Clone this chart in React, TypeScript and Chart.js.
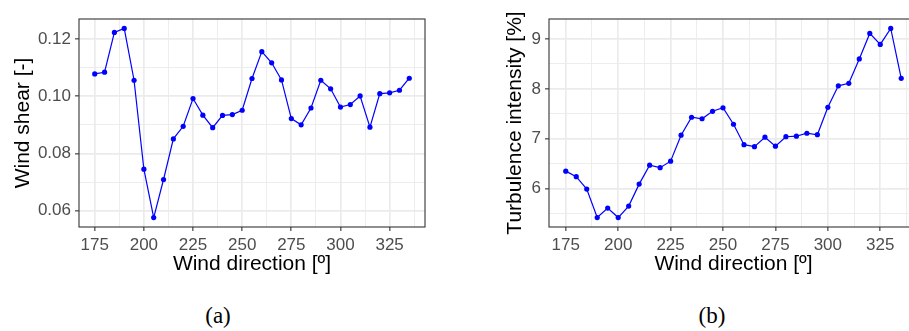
import React, { useEffect, useRef } from "react";
import { Chart, registerables } from "chart.js";

Chart.register(...registerables);

// ---------- data ----------
const directions = [175, 180, 185, 190, 195, 200, 205, 210, 215, 220, 225, 230, 235, 240, 245, 250, 255, 260, 265, 270, 275, 280, 285, 290, 295, 300, 305, 310, 315, 320, 325, 330, 335];
const windShear = [0.1078, 0.1084, 0.1223, 0.1237, 0.1056, 0.0745, 0.0576, 0.0709, 0.0851, 0.0895, 0.0992, 0.0934, 0.089, 0.0933, 0.0936, 0.0951, 0.1062, 0.1156, 0.1117, 0.1057, 0.0922, 0.09, 0.0959, 0.1056, 0.1026, 0.0962, 0.0971, 0.1001, 0.0892, 0.1009, 0.1012, 0.1021, 0.1063];
const turbulence = [6.35, 6.24, 5.99, 5.42, 5.61, 5.42, 5.65, 6.09, 6.47, 6.42, 6.55, 7.07, 7.43, 7.4, 7.55, 7.62, 7.29, 6.88, 6.84, 7.03, 6.85, 7.04, 7.05, 7.11, 7.08, 7.63, 8.06, 8.11, 8.6, 9.11, 8.89, 9.21, 8.21];

const xMajorTicks = [175, 200, 225, 250, 275, 300, 325];
const xMinorTicks = [187.5, 212.5, 237.5, 262.5, 287.5, 312.5, 337.5];
const shearMajorTicks = [0.06, 0.08, 0.1, 0.12];
const shearMinorTicks = [0.07, 0.09, 0.11];
const tiMajorTicks = [6, 7, 8, 9];
const tiMinorTicks = [5.5, 6.5, 7.5, 8.5];

const xTitle = "Wind direction [º]";
const shearTitle = "Wind shear [-]";
const tiTitle = "Turbulence intensity [%]";
const captions = ["(a)", "(b)"];

// ---------- helpers ----------
const expand = (vals: number[]) => {
  const lo = Math.min(...vals);
  const hi = Math.max(...vals);
  const pad = (hi - lo) * 0.05;
  return [lo - pad, hi + pad];
};

const SANS = "'Liberation Sans', Arial, sans-serif";
const GRID = "#ebebeb";
const BORDER = "#333333";

const boxPlugin = {
  id: "panelBox",
  afterDatasetsDraw(chart: any) {
    const { ctx, chartArea: a } = chart;
    ctx.save();
    ctx.strokeStyle = BORDER;
    ctx.lineWidth = 1.1;
    ctx.strokeRect(a.left, a.top, a.right - a.left, a.bottom - a.top);
    ctx.restore();
  },
};

function makeAxis(
  range: number[],
  majors: number[],
  minors: number[],
  title: string,
  fmt: (v: number) => string,
  fit: (s: any) => void,
  titlePad: any
) {
  const isMajor = (v: number) => majors.some((m) => Math.abs(m - v) < 1e-9);
  return {
    type: "linear",
    min: range[0],
    max: range[1],
    afterBuildTicks: (s: any) => {
      s.ticks = [...majors, ...minors]
        .filter((v) => v >= range[0] && v <= range[1])
        .sort((a, b) => a - b)
        .map((v) => ({ value: v }));
    },
    afterFit: fit,
    border: { display: false },
    grid: {
      color: GRID,
      lineWidth: (c: any) => (c.tick && isMajor(c.tick.value) ? 1.7 : 0.9),
      tickColor: (c: any) => (c.tick && isMajor(c.tick.value) ? BORDER : "rgba(0,0,0,0)"),
      tickLength: 4,
      tickWidth: 1.1,
      drawTicks: true,
    },
    ticks: {
      autoSkip: false,
      maxRotation: 0,
      padding: 4,
      color: "#4d4d4d",
      font: { family: SANS, size: 17 },
      callback: (v: any) => (isMajor(Number(v)) ? fmt(Number(v)) : ""),
    },
    title: {
      display: true,
      text: title,
      color: "#000000",
      font: { family: SANS, size: 21 },
      padding: titlePad,
    },
  };
}

function ChartPanel(props: {
  values: number[];
  yMajors: number[];
  yMinors: number[];
  yTitle: string;
  yFmt: (v: number) => string;
  left: number;
  width: number;
  yAxisWidth: number;
  padRight: number;
}) {
  const ref = useRef<HTMLCanvasElement | null>(null);
  useEffect(() => {
    if (!ref.current) return;
    const xr = expand(directions);
    const yr = expand(props.values);
    const chart = new Chart(ref.current, {
      type: "line",
      data: {
        datasets: [
          {
            data: directions.map((d, i) => ({ x: d, y: props.values[i] })),
            borderColor: "#0000ff",
            backgroundColor: "#0000ff",
            borderWidth: 1.2,
            pointRadius: 2.6,
            pointBorderWidth: 0,
            pointBackgroundColor: "#0000ff",
            tension: 0,
          },
        ],
      },
      options: {
        animation: false,
        responsive: false,
        devicePixelRatio: 1,
        layout: { padding: { top: 19, right: props.padRight, left: 0, bottom: 0 } },
        plugins: { legend: { display: false }, tooltip: { enabled: false } },
        scales: {
          x: makeAxis(xr, xMajorTicks, xMinorTicks, xTitle, (v) => String(v), (s: any) => {
            s.height = 63;
          }, { top: 0, bottom: 13 }) as any,
          y: makeAxis(yr, props.yMajors, props.yMinors, props.yTitle, props.yFmt, (s: any) => {
            s.width = props.yAxisWidth;
          }, { top: 11, bottom: 0 }) as any,
        },
      },
      plugins: [boxPlugin],
    } as any);
    return () => chart.destroy();
  }, []);
  return (
    <canvas
      ref={ref}
      width={props.width}
      height={290}
      style={{ position: "absolute", left: props.left, top: 0, width: props.width, height: 290 }}
    />
  );
}

export default function App() {
  const capStyle = (cx: number): React.CSSProperties => ({
    position: "absolute",
    left: cx - 40,
    width: 80,
    top: 304,
    textAlign: "center",
    fontFamily: "'Liberation Serif', 'Times New Roman', serif",
    fontSize: 23,
    lineHeight: "23px",
    color: "#000",
  });
  return (
    <div
      style={{
        position: "fixed",
        left: 0,
        top: 0,
        width: 909,
        height: 331,
        overflow: "hidden",
        background: "#ffffff",
      }}
    >
      <ChartPanel
        values={windShear}
        yMajors={shearMajorTicks}
        yMinors={shearMinorTicks}
        yTitle={shearTitle}
        yFmt={(v) => v.toFixed(2)}
        left={0}
        width={445}
        yAxisWidth={79}
        padRight={20}
      />
      <ChartPanel
        values={turbulence}
        yMajors={tiMajorTicks}
        yMinors={tiMinorTicks}
        yTitle={tiTitle}
        yFmt={(v) => String(v)}
        left={492}
        width={440}
        yAxisWidth={57}
        padRight={14}
      />
      <div style={capStyle(218)}>{captions[0]}</div>
      <div style={capStyle(712)}>{captions[1]}</div>
    </div>
  );
}
